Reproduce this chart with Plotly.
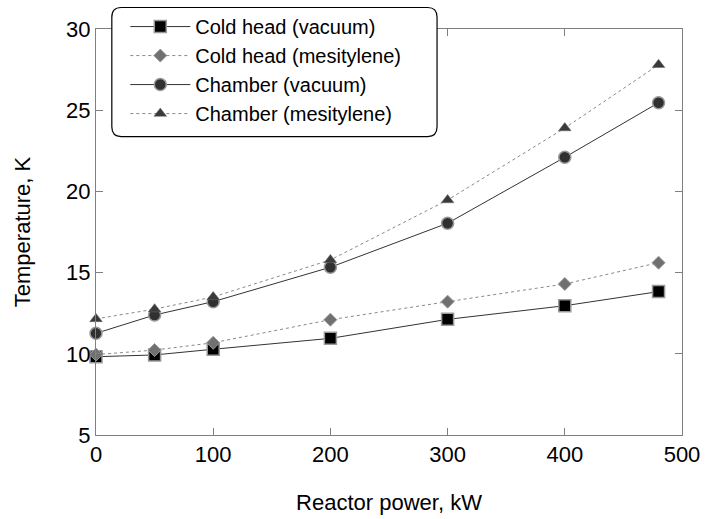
import plotly.graph_objects as go

power_kw = [0, 50, 100, 200, 300, 400, 480]
cold_head_vacuum = [9.82, 9.93, 10.28, 10.95, 12.12, 12.96, 13.83]
cold_head_mesitylene = [9.95, 10.23, 10.68, 12.1, 13.21, 14.30, 15.61]
chamber_vacuum = [11.26, 12.39, 13.21, 15.33, 18.04, 22.1, 25.46]
chamber_mesitylene = [12.15, 12.75, 13.5, 15.78, 19.47, 23.9, 27.8]

x_ticks = [0, 100, 200, 300, 400, 500]
y_ticks = [5, 10, 15, 20, 25, 30]

FONT = "Arial, 'Liberation Sans', sans-serif"

fig = go.Figure()

fig.add_trace(go.Scatter(
    x=power_kw, y=cold_head_vacuum, name="Cold head (vacuum)",
    mode="lines+markers", cliponaxis=False,
    line=dict(color="#333333", width=1),
    marker=dict(symbol="square", size=12, color="#000000",
                line=dict(color="#999999", width=1.5)),
))
fig.add_trace(go.Scatter(
    x=power_kw, y=cold_head_mesitylene, name="Cold head (mesitylene)",
    mode="lines+markers", cliponaxis=False,
    line=dict(color="#888888", width=1, dash="dot"),
    marker=dict(symbol="diamond", size=10, color="#707070",
                line=dict(color="#999999", width=1)),
))
fig.add_trace(go.Scatter(
    x=power_kw, y=chamber_vacuum, name="Chamber (vacuum)",
    mode="lines+markers", cliponaxis=False,
    line=dict(color="#333333", width=1),
    marker=dict(symbol="circle", size=12, color="#303030",
                line=dict(color="#999999", width=1.5)),
))
fig.add_trace(go.Scatter(
    x=power_kw, y=chamber_mesitylene, name="Chamber (mesitylene)",
    mode="lines+markers", cliponaxis=False,
    line=dict(color="#888888", width=1, dash="dot"),
    marker=dict(symbol="triangle-up", size=11, color="#3a3a3a",
                line=dict(color="#666666", width=0.5)),
))

# rounded legend frame (paper coordinates)
x0, x1, y0, y1 = 0.027, 0.582, 0.735, 1.053
rx, ry = 0.016, 0.024
path = (f"M {x0+rx},{y1} L {x1-rx},{y1} Q {x1},{y1} {x1},{y1-ry} "
        f"L {x1},{y0+ry} Q {x1},{y0} {x1-rx},{y0} L {x0+rx},{y0} "
        f"Q {x0},{y0} {x0},{y0+ry} L {x0},{y1-ry} Q {x0},{y1} {x0+rx},{y1} Z")
fig.add_shape(type="path", path=path, xref="paper", yref="paper",
              line=dict(color="#000000", width=1.2), fillcolor="white", layer="above")

axis_common = dict(
    showline=True, linecolor="#808080", linewidth=1, mirror="ticks",
    ticks="inside", ticklen=7, tickcolor="#808080", tickwidth=1,
    showgrid=False, zeroline=False, automargin=False,
    tickfont=dict(family=FONT, size=22, color="#000000"),
)

fig.update_layout(
    width=705, height=519,
    margin=dict(l=96, r=23, t=29, b=84, autoexpand=False),
    paper_bgcolor="white", plot_bgcolor="white",
    font=dict(family=FONT, size=22, color="#000000"),
    xaxis=dict(range=[0, 500], tickvals=x_ticks, ticktext=[str(v) for v in x_ticks],
               title=dict(text="Reactor power, kW", font=dict(family=FONT, size=22), standoff=28),
               **axis_common),
    yaxis=dict(range=[5, 30], tickvals=y_ticks, ticktext=[str(v) for v in y_ticks],
               title=dict(text="Temperature, K", font=dict(family=FONT, size=22), standoff=29),
               **axis_common),
    legend=dict(x=0.05, y=1.054, xanchor="left", yanchor="top",
                bgcolor="rgba(0,0,0,0)", borderwidth=0, itemwidth=60,
                font=dict(family=FONT, size=20), tracegroupgap=0),
    showlegend=True,
)

fig.write_html("out.html")
